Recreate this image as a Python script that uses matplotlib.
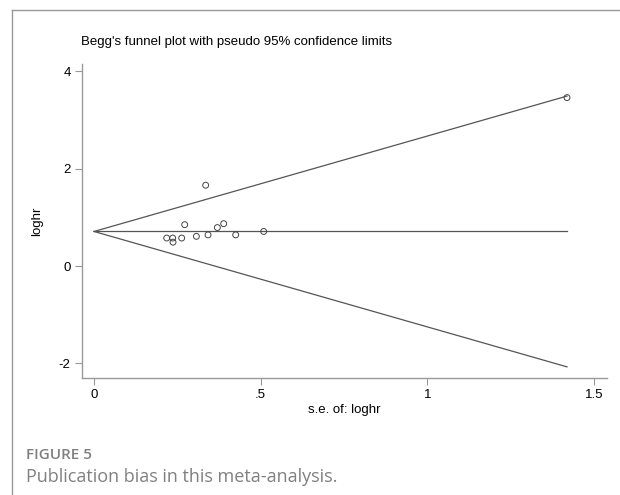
import matplotlib
matplotlib.use("Agg")
import matplotlib.pyplot as plt
import numpy as np
from matplotlib.lines import Line2D

# study standard errors and log hazard ratios
se = [0.218, 0.236, 0.237, 0.263, 0.272, 0.307, 0.335, 0.342, 0.370, 0.389, 0.425, 0.509, 1.419]
loghr = [0.575, 0.575, 0.49, 0.575, 0.85, 0.61, 1.66, 0.64, 0.79, 0.87, 0.64, 0.71, 3.46]
pooled = 0.71

xticks = [0, 0.5, 1, 1.5]
xticklabels = ["0", ".5", "1", "1.5"]
yticks = [-2, 0, 2, 4]

W, H = 620, 495
plt.rcParams['font.family'] = ['Liberation Sans', 'DejaVu Sans']
plt.rcParams['axes.unicode_minus'] = False
fig = plt.figure(figsize=(W / 100, H / 100), dpi=100)

ax = fig.add_axes([81.7 / W, 1 - 378 / H, (607 - 81.7) / W, (378 - 64) / H])

# pseudo 95% confidence limits
se_max = max(se)
xs = np.array([0, se_max])
ax.plot(xs, pooled + 1.96 * xs, color='#555555', lw=0.9)
ax.plot(xs, pooled - 1.96 * xs, color='#555555', lw=0.9)
ax.plot(xs, [pooled, pooled], color='#555555', lw=0.9)
ax.scatter(se, loghr, s=18, facecolors='none', edgecolors='#444444', linewidths=0.7, zorder=3)

ax.set_xlim(-0.037, 1.539)
ax.set_ylim(-2.3, 4.15)
ax.set_xticks(xticks)
ax.set_xticklabels(xticklabels)
ax.set_yticks(yticks)
for s in ['top', 'right']:
    ax.spines[s].set_visible(False)
for s in ['left', 'bottom']:
    ax.spines[s].set_color('#999999')
    ax.spines[s].set_linewidth(1.0)
ax.tick_params(direction='out', length=5, width=0.8, color='#999999', labelsize=9.5, pad=3)

ax.set_xlabel('s.e. of: loghr', fontsize=9.5, labelpad=2)
ax.set_ylabel('loghr', fontsize=9.5, labelpad=11)
fig.text(81 / W, 1 - 42 / H, "Begg's funnel plot with pseudo 95% confidence limits",
         fontsize=9.5, va='center', ha='left')

# outer frame of the figure panel
fig.add_artist(Line2D([12 / W, 12 / W], [0, 1 - 10 / H], color='#999999', lw=1.0))
fig.add_artist(Line2D([12 / W, 1], [1 - 10 / H, 1 - 10 / H], color='#999999', lw=1.0))

fig.text(26 / W, 1 - 455 / H, 'FIGURE 5', fontsize=11, color='#808080',
         family=['Open Sans', 'DejaVu Sans'], fontweight='semibold', va='center')
fig.text(26 / W, 1 - 477 / H, 'Publication bias in this meta-analysis.', fontsize=13,
         color='#808080', family=['Open Sans', 'DejaVu Sans'], va='center')

fig.savefig('out.png', dpi=100)
